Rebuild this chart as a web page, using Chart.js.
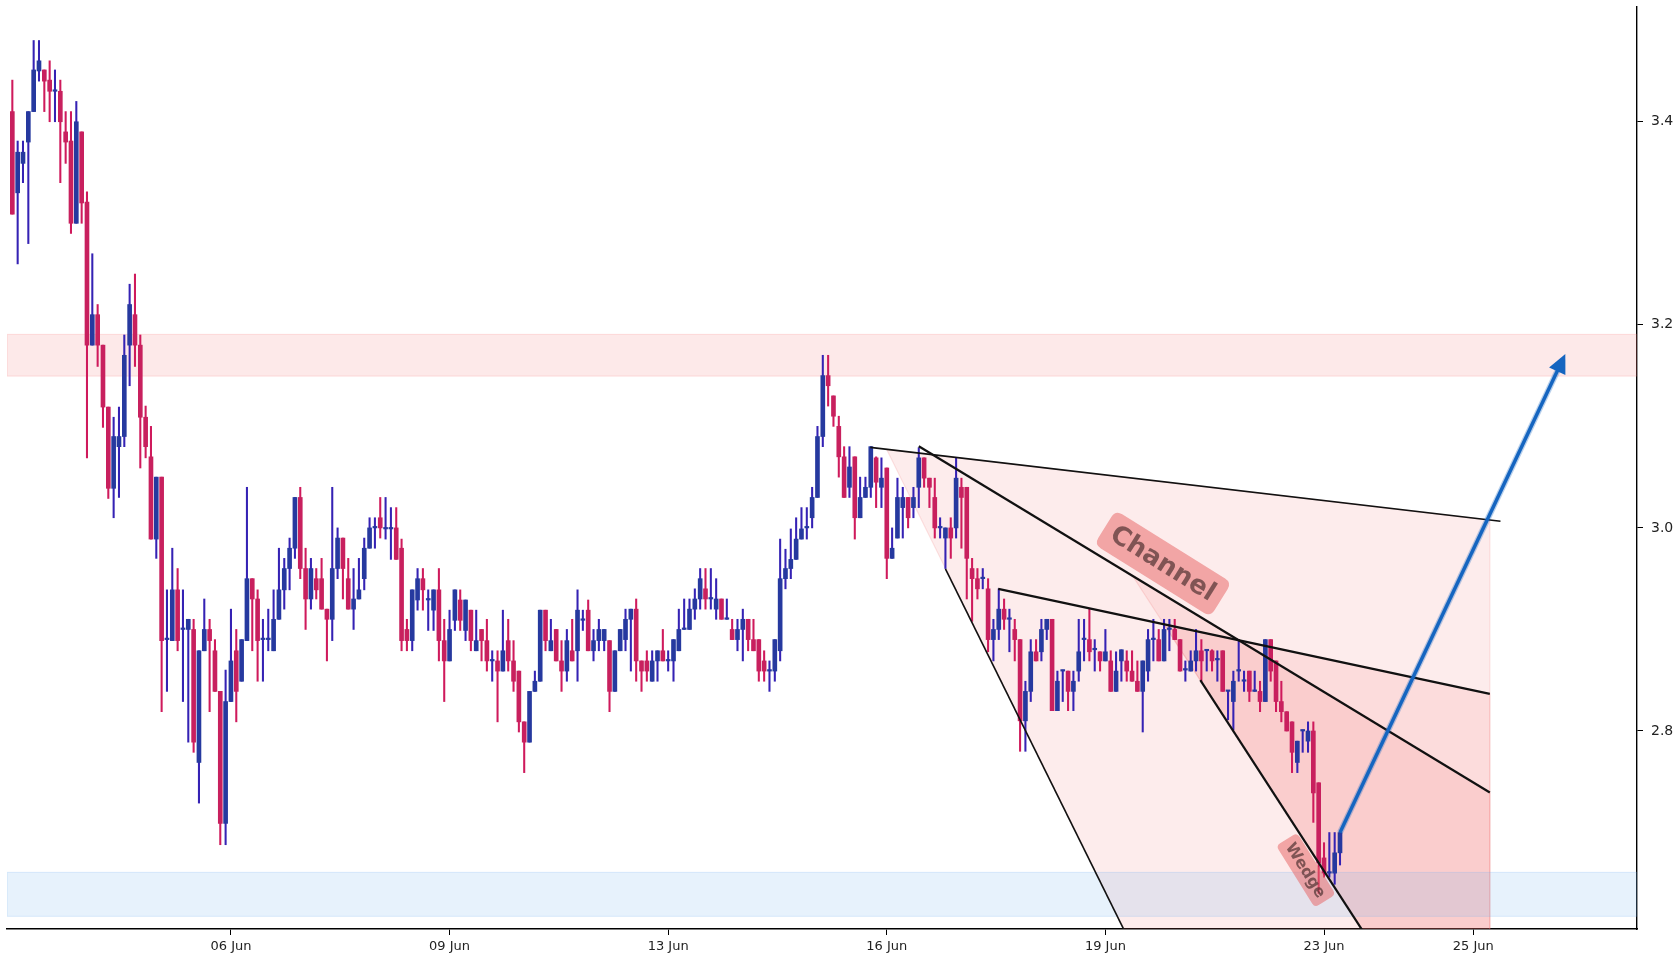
<!DOCTYPE html>
<html>
<head>
<meta charset="utf-8">
<script src="https://cdn.jsdelivr.net/npm/chart.js@4.4.1/dist/chart.umd.min.js"></script>
<style>
  html, body { margin: 0; padding: 0; background: #fff; }
  canvas { display: block; }
</style>
</head>
<body>
<canvas id="chart" width="1680" height="960"></canvas>
<script>
// candles, one per bar index 0..249
const opens = [
  3.410,3.330,3.359,3.380,3.410,3.450,3.451,3.441,3.430,3.430,
  3.390,3.381,3.300,3.390,3.321,3.180,3.210,3.180,3.119,3.039,
  3.080,3.090,3.180,3.210,3.180,3.109,3.070,2.989,3.050,2.890,
  2.889,2.939,2.900,2.900,2.900,2.769,2.879,2.900,2.879,2.839,
  2.709,2.829,2.879,2.849,2.889,2.950,2.930,2.890,2.890,2.879,
  2.910,2.939,2.960,2.980,3.030,2.960,2.930,2.950,2.950,2.920,
  2.910,2.960,2.990,2.950,2.920,2.930,2.950,2.980,3.000,3.010,
  2.999,2.999,3.000,2.980,2.900,2.889,2.929,2.950,2.929,2.919,
  2.939,2.889,2.869,2.909,2.929,2.899,2.919,2.879,2.900,2.889,
  2.869,2.869,2.859,2.889,2.869,2.859,2.809,2.789,2.839,2.849,
  2.919,2.879,2.900,2.869,2.859,2.879,2.879,2.909,2.919,2.879,
  2.889,2.889,2.889,2.839,2.879,2.890,2.910,2.920,2.869,2.869,
  2.849,2.869,2.879,2.869,2.869,2.879,2.900,2.900,2.920,2.930,
  2.940,2.930,2.920,2.930,2.910,2.900,2.890,2.900,2.910,2.890,
  2.890,2.869,2.859,2.859,2.879,2.950,2.960,2.969,2.989,3.000,
  3.010,3.030,3.090,3.150,3.130,3.100,3.070,3.040,3.070,3.010,
  3.030,3.040,3.069,3.040,3.059,2.970,2.990,3.020,3.030,3.020,
  3.040,3.069,3.049,3.030,3.000,2.990,3.000,3.000,3.040,3.040,
  2.960,2.950,2.950,2.940,2.890,2.900,2.920,2.910,2.900,2.890,
  2.810,2.839,2.878,2.878,2.900,2.910,2.820,2.859,2.859,2.839,
  2.859,2.890,2.890,2.880,2.878,2.869,2.869,2.839,2.869,2.869,
  2.859,2.849,2.839,2.859,2.890,2.890,2.869,2.900,2.900,2.890,
  2.860,2.859,2.869,2.879,2.879,2.879,2.870,2.879,2.839,2.829,
  2.859,2.849,2.859,2.839,2.839,2.829,2.890,2.869,2.829,2.819,
  2.809,2.769,2.800,2.790,2.800,2.749,2.675,2.660,2.660,2.680
];
const highs = [
  3.441,3.381,3.381,3.410,3.480,3.480,3.451,3.460,3.451,3.441,
  3.410,3.410,3.420,3.390,3.331,3.270,3.220,3.180,3.119,3.109,
  3.119,3.190,3.240,3.250,3.190,3.120,3.100,3.050,3.050,2.939,
  2.980,2.960,2.939,2.910,2.910,2.879,2.930,2.910,2.890,2.839,
  2.860,2.920,2.900,2.890,3.040,2.950,2.939,2.910,2.920,2.939,
  2.980,2.970,2.990,3.030,3.040,2.980,2.970,2.960,2.970,2.920,
  3.040,3.000,2.990,2.970,2.960,2.970,2.990,3.010,3.010,3.030,
  3.030,3.020,3.020,2.989,2.910,2.939,2.960,2.960,2.939,2.939,
  2.960,2.910,2.919,2.939,2.939,2.929,2.919,2.919,2.900,2.910,
  2.879,2.879,2.919,2.910,2.889,2.859,2.809,2.839,2.859,2.919,
  2.919,2.910,2.900,2.889,2.900,2.910,2.939,2.919,2.929,2.900,
  2.910,2.900,2.889,2.879,2.900,2.920,2.920,2.930,2.869,2.879,
  2.879,2.879,2.900,2.879,2.890,2.920,2.930,2.930,2.940,2.960,
  2.960,2.960,2.950,2.930,2.930,2.910,2.910,2.920,2.910,2.910,
  2.890,2.879,2.869,2.890,2.989,2.979,2.999,3.010,3.020,3.020,
  3.040,3.100,3.170,3.170,3.130,3.110,3.080,3.080,3.070,3.050,
  3.050,3.080,3.070,3.069,3.059,3.000,3.049,3.040,3.030,3.040,
  3.079,3.069,3.049,3.049,3.010,3.000,3.010,3.069,3.049,3.040,
  2.970,2.960,2.960,2.950,2.910,2.940,2.930,2.920,2.910,2.890,
  2.849,2.890,2.890,2.910,2.910,2.910,2.859,2.859,2.859,2.859,
  2.910,2.910,2.920,2.890,2.878,2.900,2.879,2.878,2.880,2.879,
  2.879,2.869,2.869,2.900,2.910,2.900,2.910,2.910,2.910,2.890,
  2.869,2.879,2.900,2.890,2.880,2.880,2.879,2.879,2.839,2.859,
  2.890,2.859,2.859,2.859,2.849,2.890,2.890,2.869,2.849,2.819,
  2.809,2.790,2.800,2.809,2.809,2.749,2.690,2.700,2.700,2.700
];
const lows = [
  3.309,3.260,3.340,3.280,3.410,3.440,3.410,3.400,3.400,3.340,
  3.359,3.290,3.300,3.300,3.069,3.180,3.159,3.099,3.029,3.010,
  3.030,3.080,3.140,3.159,3.059,3.069,2.989,2.970,2.819,2.839,
  2.889,2.879,2.829,2.789,2.779,2.729,2.879,2.819,2.839,2.688,
  2.688,2.829,2.809,2.849,2.889,2.879,2.849,2.849,2.879,2.879,
  2.910,2.920,2.939,2.970,2.950,2.900,2.920,2.930,2.920,2.869,
  2.889,2.950,2.930,2.920,2.900,2.930,2.939,2.980,2.980,2.990,
  2.989,2.969,2.969,2.879,2.879,2.879,2.919,2.919,2.899,2.899,
  2.869,2.829,2.869,2.899,2.899,2.889,2.879,2.879,2.869,2.859,
  2.849,2.809,2.859,2.859,2.839,2.799,2.759,2.789,2.839,2.849,
  2.879,2.879,2.869,2.839,2.849,2.869,2.849,2.899,2.879,2.869,
  2.879,2.879,2.819,2.839,2.879,2.879,2.859,2.849,2.839,2.849,
  2.849,2.849,2.869,2.859,2.849,2.879,2.900,2.900,2.910,2.920,
  2.920,2.920,2.910,2.910,2.910,2.890,2.879,2.869,2.879,2.879,
  2.849,2.849,2.839,2.849,2.869,2.940,2.950,2.969,2.989,2.989,
  3.000,3.030,3.080,3.120,3.100,3.050,3.030,3.030,2.989,3.010,
  3.030,3.030,3.020,3.020,2.950,2.970,2.990,2.990,3.000,3.010,
  3.020,3.040,3.020,2.990,2.990,2.960,2.970,2.990,2.980,2.930,
  2.908,2.930,2.940,2.878,2.869,2.890,2.900,2.878,2.869,2.780,
  2.780,2.829,2.869,2.869,2.890,2.820,2.820,2.829,2.820,2.820,
  2.849,2.869,2.869,2.859,2.859,2.869,2.839,2.839,2.849,2.849,
  2.849,2.839,2.799,2.849,2.869,2.869,2.869,2.879,2.890,2.859,
  2.849,2.859,2.859,2.849,2.859,2.859,2.849,2.839,2.811,2.801,
  2.849,2.839,2.829,2.839,2.819,2.829,2.849,2.819,2.809,2.800,
  2.759,2.759,2.779,2.779,2.710,2.640,2.656,2.656,2.649,2.668
];
const closes = [
  3.309,3.370,3.370,3.410,3.451,3.460,3.440,3.430,3.431,3.400,
  3.380,3.300,3.400,3.320,3.180,3.210,3.180,3.119,3.039,3.090,
  3.090,3.170,3.220,3.180,3.109,3.080,2.989,3.050,2.889,2.891,
  2.939,2.889,2.901,2.910,2.789,2.879,2.900,2.889,2.839,2.709,
  2.829,2.869,2.839,2.890,2.950,2.930,2.889,2.891,2.891,2.910,
  2.939,2.960,2.980,3.030,2.960,2.930,2.960,2.939,2.920,2.910,
  2.960,2.990,2.960,2.920,2.930,2.939,2.980,3.000,3.001,3.000,
  3.000,3.000,2.969,2.889,2.889,2.939,2.950,2.939,2.930,2.939,
  2.889,2.869,2.900,2.939,2.909,2.929,2.889,2.889,2.889,2.869,
  2.870,2.859,2.879,2.869,2.849,2.809,2.789,2.839,2.849,2.919,
  2.889,2.889,2.869,2.859,2.889,2.869,2.919,2.910,2.879,2.889,
  2.900,2.900,2.839,2.879,2.900,2.910,2.920,2.869,2.859,2.859,
  2.869,2.879,2.869,2.870,2.890,2.900,2.901,2.920,2.930,2.950,
  2.930,2.931,2.930,2.910,2.911,2.890,2.900,2.910,2.890,2.879,
  2.859,2.859,2.860,2.890,2.950,2.960,2.969,2.989,2.999,3.001,
  3.030,3.090,3.150,3.140,3.110,3.070,3.030,3.060,3.010,3.030,
  3.040,3.080,3.045,3.049,2.970,2.980,3.030,3.030,3.010,3.030,
  3.069,3.049,3.040,3.000,3.001,3.000,2.990,3.049,3.030,2.970,
  2.950,2.940,2.951,2.890,2.900,2.920,2.910,2.911,2.890,2.810,
  2.839,2.878,2.869,2.900,2.910,2.820,2.849,2.860,2.839,2.849,
  2.878,2.891,2.878,2.881,2.869,2.878,2.839,2.859,2.880,2.859,
  2.849,2.839,2.869,2.890,2.891,2.869,2.900,2.901,2.890,2.859,
  2.861,2.869,2.879,2.869,2.880,2.869,2.871,2.839,2.840,2.849,
  2.860,2.850,2.839,2.840,2.829,2.890,2.859,2.829,2.819,2.800,
  2.779,2.790,2.801,2.800,2.739,2.670,2.660,2.661,2.680,2.700
];

// x axis: bar index -> date label
const tickIdx    = [41, 82, 123, 164, 205, 246, 274];
const tickLabels = ['06 Jun', '09 Jun', '13 Jun', '16 Jun', '19 Jun', '23 Jun', '25 Jun'];
const yTicks     = [2.8, 3.0, 3.2, 3.4];

// zones [low, high]
const resistZone  = [3.1495, 3.1906];
const supportZone = [2.6175, 2.6608];

// drawn lines, [index, price]
const lineA = [[160.9, 3.0793], [279.1, 3.0065]];
const lineB = [[170.0, 3.0804], [277.1, 2.7394]];
const lineC = [[184.9, 2.9400], [277.1, 2.8365]];
const lineD = [[175.0, 2.9597], [218.3, 2.5000]];
const lineE = [[222.8, 2.8500], [266.0, 2.5000]];
const arrowPts = [[249, 2.700], [290.7, 3.165]];

// shaded areas
const channelArea = [[163.96, 3.0774], [277.1, 3.0077], [277.1, 2.50], [218.3, 2.50]];
const upperArea   = [[210.1, 2.9527], [277.1, 2.7394], [277.1, 2.50], [266.0, 2.50]];
const wedgeArea   = [[216.0, 2.9050], [277.1, 2.8365], [277.1, 2.50], [266.0, 2.50]];

const labels = [
  { text: 'Channel', at: [215.8, 2.965], angle: 32, size: 26 },
  { text: 'Wedge',   at: [242.6, 2.663], angle: 58, size: 16 }
];

const RED = '#C8205E', BLUE = '#26399F';
const RED_WICK = '#CF1A5C', BLUE_WICK = '#3522B4';

const isUp = closes.map((c, i) => c >= opens[i]);
const bodies = opens.map((o, i) => ({ x: i, y: [Math.min(o, closes[i]), Math.max(o, closes[i])] }));
const wicks  = highs.map((h, i) => ({ x: i, y: [Math.min(lows[i], opens[i], closes[i]), Math.max(h, opens[i], closes[i])] }));
const toXY = pts => pts.map(p => ({ x: p[0], y: p[1] }));

function lineSet(pts, width, order) {
  return { type: 'line', data: toXY(pts), borderColor: '#111', borderWidth: width,
           pointRadius: 0, fill: false, order: order, clip: 0 };
}

function roundRect(ctx, x, y, w, h, r) {
  ctx.beginPath();
  ctx.moveTo(x + r, y);
  ctx.lineTo(x + w - r, y);
  ctx.quadraticCurveTo(x + w, y, x + w, y + r);
  ctx.lineTo(x + w, y + h - r);
  ctx.quadraticCurveTo(x + w, y + h, x + w - r, y + h);
  ctx.lineTo(x + r, y + h);
  ctx.quadraticCurveTo(x, y + h, x, y + h - r);
  ctx.lineTo(x, y + r);
  ctx.quadraticCurveTo(x, y, x + r, y);
  ctx.closePath();
}

const overlay = {
  id: 'overlay',
  beforeDatasetsDraw(chart) {
    const { ctx, chartArea: a, scales: { x, y } } = chart;
    ctx.save();
    ctx.beginPath();
    ctx.rect(a.left, a.top, a.right - a.left, a.bottom - a.top);
    ctx.clip();

    [channelArea, upperArea, wedgeArea].forEach(poly => {
      ctx.beginPath();
      poly.forEach((p, i) => {
        const px = x.getPixelForValue(p[0]), py = y.getPixelForValue(p[1]);
        i ? ctx.lineTo(px, py) : ctx.moveTo(px, py);
      });
      ctx.closePath();
      ctx.fillStyle = 'rgba(236,112,112,0.13)';
      ctx.fill();
      ctx.strokeStyle = 'rgba(236,112,112,0.18)';
      ctx.lineWidth = 1.2;
      ctx.stroke();
    });

    const band = (z, fill, edge) => {
      const top = y.getPixelForValue(z[1]), bot = y.getPixelForValue(z[0]);
      ctx.fillStyle = fill;
      ctx.fillRect(a.left, top, a.right - a.left, bot - top);
      ctx.strokeStyle = edge;
      ctx.lineWidth = 1;
      ctx.strokeRect(a.left, top, a.right - a.left, bot - top);
    };
    band(resistZone, 'rgba(245,120,120,0.16)', 'rgba(245,120,120,0.22)');
    band(supportZone, 'rgba(110,175,240,0.17)', 'rgba(110,175,240,0.22)');
    ctx.restore();
  },
  afterDatasetsDraw(chart) {
    const { ctx, scales: { x, y } } = chart;
    ctx.save();

    // arrow head
    const x0 = x.getPixelForValue(arrowPts[0][0]), y0 = y.getPixelForValue(arrowPts[0][1]);
    const x1 = x.getPixelForValue(arrowPts[1][0]), y1 = y.getPixelForValue(arrowPts[1][1]);
    const ang = Math.atan2(y1 - y0, x1 - x0);
    const ux = Math.cos(ang), uy = Math.sin(ang);
    const tipX = x1 + ux * 7, tipY = y1 + uy * 7;
    const bX = x1 - ux * 12, bY = y1 - uy * 12;
    ctx.beginPath();
    ctx.moveTo(tipX, tipY);
    ctx.lineTo(bX - uy * 9, bY + ux * 9);
    ctx.lineTo(bX + uy * 9, bY - ux * 9);
    ctx.closePath();
    ctx.fillStyle = '#1565C0';
    ctx.fill();

    // pattern tags
    labels.forEach(l => {
      const cx = x.getPixelForValue(l.at[0]), cy = y.getPixelForValue(l.at[1]);
      ctx.save();
      ctx.translate(cx, cy);
      ctx.rotate(l.angle * Math.PI / 180);
      ctx.font = 'bold ' + l.size + 'px "DejaVu Sans"';
      const w = ctx.measureText(l.text).width + l.size * 0.7;
      const h = l.size * 1.55;
      roundRect(ctx, -w / 2, -h / 2, w, h, l.size * 0.3);
      ctx.fillStyle = 'rgba(232,105,105,0.55)';
      ctx.fill();
      ctx.fillStyle = 'rgba(80,50,50,0.7)';
      ctx.textAlign = 'center';
      ctx.textBaseline = 'middle';
      ctx.fillText(l.text, 0, 1);
      ctx.restore();
    });
    ctx.restore();
  }
};

Chart.defaults.font.family = '"DejaVu Sans", sans-serif';
Chart.defaults.color = '#222';

new Chart(document.getElementById('chart'), {
  type: 'bar',
  data: {
    datasets: [
      { type: 'line', data: toXY(arrowPts), borderColor: 'rgba(21,101,192,0.3)', borderWidth: 6,
        pointRadius: 0, fill: false, order: 1, clip: 0 },
      { type: 'line', data: toXY(arrowPts), borderColor: '#1565C0', borderWidth: 3.5,
        pointRadius: 0, fill: false, order: 0, clip: 0 },
      lineSet(lineA, 1.6, 2),
      lineSet(lineB, 2.2, 2),
      lineSet(lineC, 2.2, 2),
      lineSet(lineD, 1.6, 2),
      lineSet(lineE, 2.2, 2),
      { data: bodies, backgroundColor: isUp.map(u => u ? BLUE : RED), barThickness: 4,
        minBarLength: 1.5, grouped: false, borderWidth: 0, order: 3 },
      { data: wicks, backgroundColor: isUp.map(u => u ? BLUE_WICK : RED_WICK), barThickness: 1.4,
        grouped: false, borderWidth: 0, order: 4 }
    ]
  },
  options: {
    responsive: false,
    animation: false,
    devicePixelRatio: 1,
    layout: { padding: { left: 7, top: 7, right: 0, bottom: 0 } },
    plugins: { legend: { display: false }, tooltip: { enabled: false } },
    scales: {
      x: {
        type: 'linear', min: -1, max: 304.7, offset: false,
        afterBuildTicks: s => { s.ticks = tickIdx.map(v => ({ value: v })); },
        afterFit: s => { s.height = 31; s.paddingLeft = 0; s.paddingRight = 0; },
        ticks: { autoSkip: false, maxRotation: 0, padding: 4, font: { size: 13 },
                 callback: v => tickLabels[tickIdx.indexOf(v)] },
        grid: { drawOnChartArea: false, drawTicks: true, tickLength: 6, color: '#000', offset: false },
        border: { display: true, color: '#000', width: 1.6 }
      },
      y: {
        position: 'right', min: 2.605, max: 3.513, beginAtZero: false,
        afterBuildTicks: s => { s.ticks = yTicks.map(v => ({ value: v })); },
        afterFit: s => { s.width = 43; s.paddingTop = 0; s.paddingBottom = 0; },
        ticks: { padding: 8, font: { size: 14 }, callback: v => v.toFixed(1) },
        grid: { drawOnChartArea: false, drawTicks: true, tickLength: 6, color: '#000' },
        border: { display: true, color: '#000', width: 1.4 }
      }
    }
  },
  plugins: [overlay]
});
</script>
</body>
</html>
